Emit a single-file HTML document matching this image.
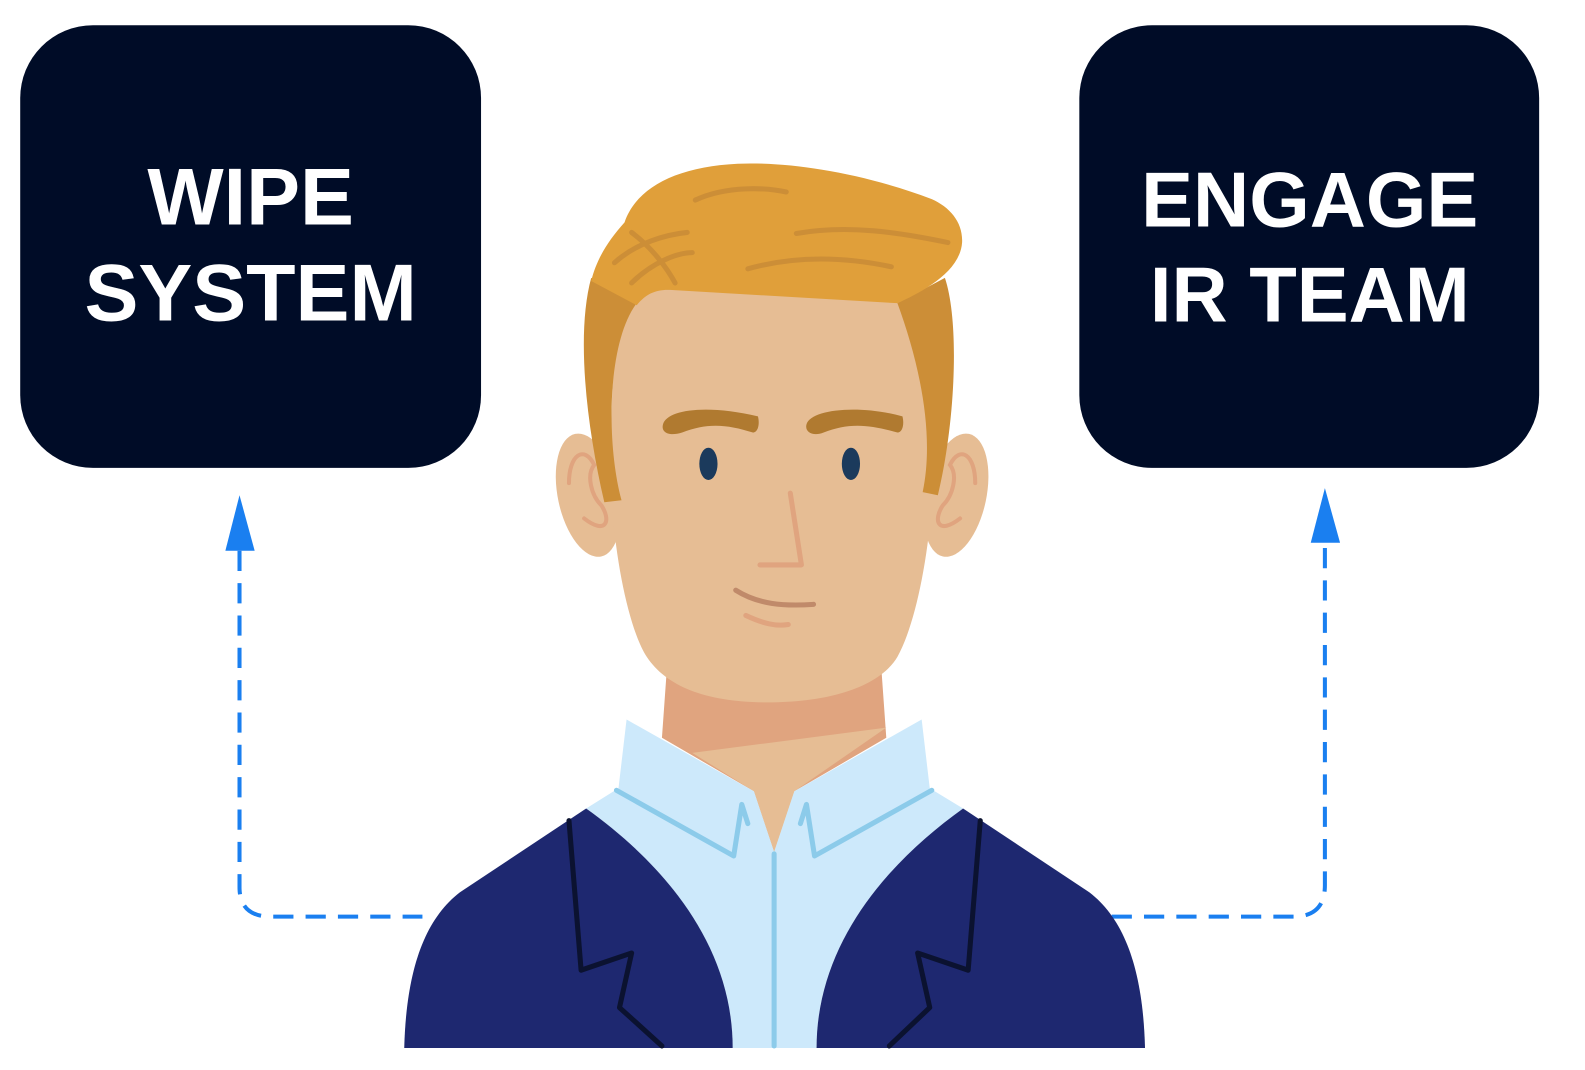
<!DOCTYPE html>
<html><head><meta charset="utf-8"><style>
html,body{margin:0;padding:0;background:#fff;width:1585px;height:1070px;overflow:hidden}
svg{display:block}
text{font-family:"Liberation Sans",sans-serif;font-weight:bold;fill:#fff;text-anchor:middle}
</style></head><body>
<svg width="1585" height="1070" viewBox="0 0 1585 1070">
<g transform="scale(1.0106)">
<rect x="20" y="25" width="456" height="438" rx="72" fill="#000c27"/>
<text x="248" y="222" font-size="80">WIPE</text>
<text x="248" y="317" font-size="80">SYSTEM</text>
<rect x="1068" y="25" width="455" height="438" rx="72" fill="#000c27"/>
<text x="1296" y="224" font-size="77">ENGAGE</text>
<text x="1296" y="318" font-size="77">IR TEAM</text>

<g fill="none" stroke="#1a7ff0" stroke-width="4" stroke-dasharray="20 12">
<path d="M237,545 L237,878 Q237,907 268,907 L418,907"/>
<path d="M1100,907 L1280,907 Q1311,907 1311,876 L1311,537"/>
</g>
<polygon points="237,490 223,545 252,545" fill="#1a7ff0"/>
<polygon points="1311,483 1297,537 1326,537" fill="#1a7ff0"/>

<path d="M660,660 L655,730 L746,783 L766,843 L786,783 L877,730 L872,660 Z" fill="#e0a47f"/>
<polygon points="685,745 877,720 786,783 766,843 746,783" fill="#e6bd94"/>
<path d="M580,800 L612,780 L620,712 L746,783 L766,843 L786,783 L912,712 L920,780 L953,800 C883,850 808,930 808,1037 L725,1037 C725,930 650,850 580,800Z" fill="#cde9fb"/>
<g stroke="#8ccbea" stroke-width="5" fill="none" stroke-linecap="round" stroke-linejoin="round">
<path d="M610,782 L726,847 L734,796 L740,815"/>
<path d="M922,782 L806,847 L798,796 L792,815"/>
<path d="M766,845 L766,1035"/>
</g>
<path d="M400,1037 C402,960 420,910 455,883 L580,800 C650,850 725,930 725,1037 Z" fill="#1e2870"/>
<path d="M1133,1037 C1131,960 1113,910 1078,883 L953,800 C883,850 808,930 808,1037 Z" fill="#1e2870"/>
<g stroke="#0b1230" stroke-width="5" fill="none" stroke-linecap="round" stroke-linejoin="round">
<path d="M563,812 L575,960 L625,943 L613,997 L655,1035"/>
<path d="M970,812 L958,960 L908,943 L920,997 L880,1035"/>
</g>
<ellipse cx="582" cy="490" rx="30" ry="62" fill="#e6bd94" transform="rotate(-12 582 490)"/>
<ellipse cx="946" cy="490" rx="30" ry="62" fill="#e6bd94" transform="rotate(12 946 490)"/>
<g stroke="#e0a47f" stroke-width="4" fill="none" stroke-linecap="round">
<path d="M563,478 C563,450 578,440 588,460 C580,470 585,490 595,500 C605,515 600,530 578,513"/>
<path d="M965,478 C965,450 950,440 940,460 C948,470 943,490 933,500 C923,515 928,530 950,513"/>
</g>
<path d="M605,430 C600,520 620,620 640,650 C660,680 700,695 760,695 C820,695 870,680 888,650 C910,610 925,520 925,430 C925,340 915,290 900,280 L640,280 C610,300 605,360 605,430Z" fill="#e6bd94"/>
<path d="M585,275 C570,330 580,420 598,497 L615,495 C600,440 600,340 630,300Z" fill="#cc8e37"/>
<path d="M888,300 C910,360 925,430 913,487 L928,490 C945,420 950,320 935,275Z" fill="#cc8e37"/>
<path d="M585,278 L630,302 C640,290 650,286 665,287 L888,300 C910,290 950,270 952,240 C953,220 940,205 922,197 C850,170 780,160 730,162 C670,165 630,185 618,220 C600,240 590,258 585,278Z" fill="#e09f3a"/>
<g stroke="#cc8e37" stroke-width="5" fill="none" stroke-linecap="round">
<path d="M688,198 C720,183 760,186 778,190"/>
<path d="M788,231 C840,222 890,230 938,240"/>
<path d="M740,266 C790,252 840,255 882,264"/>
<path d="M608,260 C630,240 660,232 680,230"/>
<path d="M625,280 C645,260 670,250 685,250"/>
<path d="M625,230 C645,245 660,265 668,280"/>
</g>
<path d="M656,420 C660,405 700,400 750,412 C752,420 750,428 745,428 C720,420 700,418 675,428 C662,432 654,428 656,420Z" fill="#b07a30"/>
<path d="M798,420 C802,405 850,400 893,412 C895,420 893,428 888,428 C860,420 840,418 815,428 C805,432 796,428 798,420Z" fill="#b07a30"/>
<ellipse cx="701" cy="459" rx="9" ry="16" fill="#1b3a5c"/>
<ellipse cx="842" cy="459" rx="9" ry="16" fill="#1b3a5c"/>
<g fill="none" stroke-linecap="round" stroke-linejoin="round" stroke-width="5">
<path d="M782,488 L793,559 L752,559" stroke="#e0a47f"/>
<path d="M728,584 C750,598 775,600 805,598" stroke="#c08a6a"/>
<path d="M738,609 C755,617 768,620 780,618" stroke="#e0a47f"/>
</g>
</g>
</svg>
</body></html>
